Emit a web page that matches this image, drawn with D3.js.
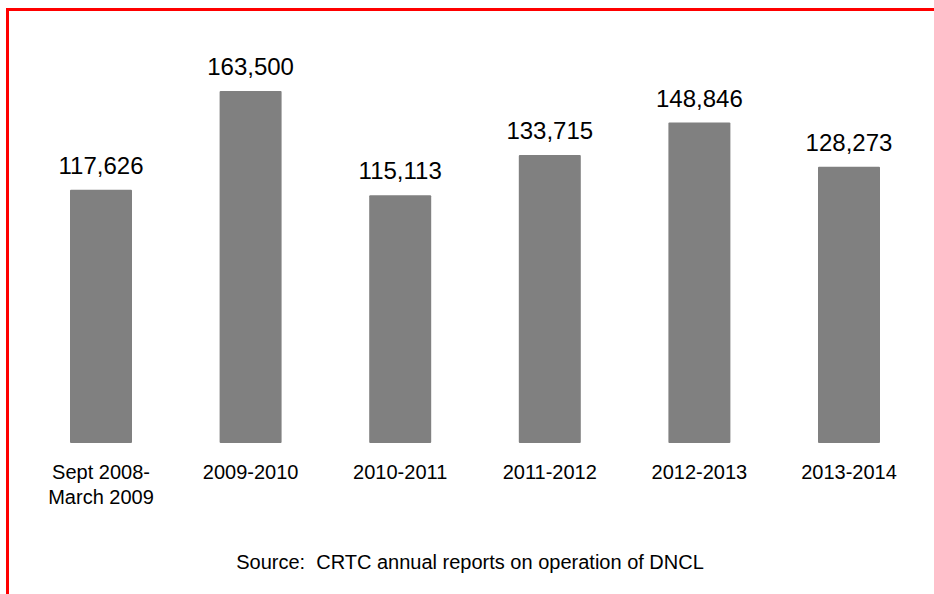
<!DOCTYPE html>
<html>
<head>
<meta charset="utf-8">
<script src="https://cdn.jsdelivr.net/npm/d3@7"></script>
<style>
  html, body { margin: 0; padding: 0; background: #fff; }
  svg { display: block; }
  text { font-family: "Liberation Sans", Arial, sans-serif; fill: #000; }
</style>
</head>
<body>
<svg id="chart" width="934" height="594"></svg>
<script>
const categories = [["Sept 2008-", "March 2009"], ["2009-2010"], ["2010-2011"], ["2011-2012"], ["2012-2013"], ["2013-2014"]];
const values = [117626, 163500, 115113, 133715, 148846, 128273];
const sourceText = "Source:  CRTC annual reports on operation of DNCL";

const svg = d3.select("#chart");
const W = 934, H = 594;

// red frame (top and left edges)
svg.append("path")
  .attr("d", `M7.5,${H} L7.5,9.5 L${W},9.5`)
  .attr("fill", "none")
  .attr("stroke", "#ff0000")
  .attr("stroke-width", 3);

const baseY = 443;
const x = d3.scaleBand()
  .domain(d3.range(values.length))
  .range([26.2, 923.8])
  .paddingInner(0.5856)
  .paddingOuter(0.2928);

const y = d3.scaleLinear()
  .domain([0, 163500])
  .range([baseY, 91]);

svg.selectAll("rect.bar")
  .data(values)
  .join("rect")
  .attr("class", "bar")
  .attr("x", (d, i) => x(i))
  .attr("y", d => y(d))
  .attr("width", x.bandwidth())
  .attr("height", d => baseY - y(d))
  .attr("rx", 1)
  .attr("fill", "#808080");

const fmt = d3.format(",");
svg.selectAll("text.val")
  .data(values)
  .join("text")
  .attr("class", "val")
  .attr("x", (d, i) => x(i) + x.bandwidth() / 2)
  .attr("y", d => y(d) - 16)
  .attr("text-anchor", "middle")
  .style("font-size", "24px")
  .text(d => fmt(d));

const cat = svg.selectAll("text.cat")
  .data(categories)
  .join("text")
  .attr("class", "cat")
  .attr("x", (d, i) => x(i) + x.bandwidth() / 2)
  .attr("y", 479)
  .attr("text-anchor", "middle")
  .style("font-size", "20px");
cat.selectAll("tspan")
  .data(d => d)
  .join("tspan")
  .attr("x", function() { return d3.select(this.parentNode).attr("x"); })
  .attr("dy", (d, i) => i === 0 ? 0 : 24.5)
  .text(d => d);

svg.append("text")
  .attr("x", 470)
  .attr("y", 569)
  .attr("text-anchor", "middle")
  .style("font-size", "20px")
  .style("white-space", "pre")
  .attr("xml:space", "preserve")
  .text(sourceText);
</script>
</body>
</html>
